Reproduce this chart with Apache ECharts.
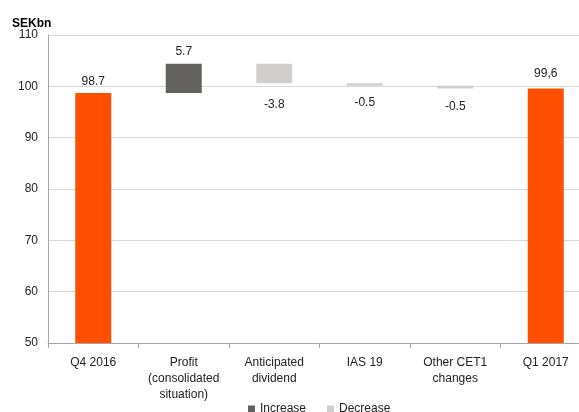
<!DOCTYPE html>
<html><head><meta charset="utf-8">
<script src="https://cdn.jsdelivr.net/npm/echarts@6/dist/echarts.min.js"></script>
<style>html,body{margin:0;padding:0;background:#fff}#c{width:579px;height:412px}</style>
</head><body><div id="c"></div>
<script>
const categories = ['Q4 2016', 'Profit\n(consolidated\nsituation)', 'Anticipated\ndividend', 'IAS 19', 'Other CET1\nchanges', 'Q1 2017'];
const totals = [98.7, null, null, null, null, 99.6];
const changes = [null, 5.7, -3.8, -0.5, -0.5, null];
const labelTexts = ['98.7', '5.7', '-3.8', '-0.5', '-0.5', '99,6'];
const yTicks = [50, 60, 70, 80, 90, 100, 110];

// label offsets (styling, not data)
const labelDist = [5, 6, 15, 11, 12, 9];

// waterfall helper derived from the values
let running = 0;
const base = [], inc = [], dec = [], tot = [];
categories.forEach((c, i) => {
  const lab = { distance: labelDist[i] };
  if (totals[i] != null) {
    running = totals[i];
    base.push(0); inc.push('-'); dec.push('-');
    tot.push({ value: totals[i], label: lab });
  } else {
    const d = changes[i];
    const lo = d >= 0 ? running : running + d;
    base.push(lo);
    if (d >= 0) { inc.push({ value: d, label: lab }); dec.push('-'); }
    else { inc.push('-'); dec.push({ value: -d, label: lab }); }
    tot.push('-');
    running += d;
  }
});

const font = 'Liberation Sans, Arial, sans-serif';
const chart = echarts.init(document.getElementById('c'));
chart.setOption({
  animation: false,
  title: { text: 'SEKbn', left: 7, top: 13, textStyle: { fontFamily: font, fontSize: 12, fontWeight: 'bold', color: '#000' } },
  grid: { left: 48, width: 543, top: 35, bottom: 69, outerBoundsMode: 'none', containLabel: false },
  legend: {
    top: 398, left: 243, itemWidth: 7, itemHeight: 7, itemGap: 21,
    data: [{ name: 'Increase', icon: 'rect' }, { name: 'Decrease', icon: 'rect' }],
    textStyle: { fontFamily: font, fontSize: 12, color: '#222' }
  },
  xAxis: {
    type: 'category', data: categories,
    axisLine: { lineStyle: { color: '#a6a6a6' } },
    axisTick: { show: true, length: 5, lineStyle: { color: '#a6a6a6' } },
    axisLabel: { fontFamily: font, fontSize: 12, color: '#222', margin: 12, lineHeight: 16, interval: 0 }
  },
  yAxis: {
    type: 'value', min: 50, max: 110, interval: 10,
    axisLine: { show: true, lineStyle: { color: '#a6a6a6' } },
    axisTick: { show: false },
    splitLine: { lineStyle: { color: '#d9d9d9' } },
    axisLabel: { fontFamily: font, fontSize: 12, color: '#222', margin: 10,
      formatter: v => yTicks.includes(v) ? String(v) : '' }
  },
  series: [
    { name: 'base', type: 'bar', stack: 'w', data: base, barWidth: 36, itemStyle: { color: 'transparent' }, silent: true },
    { name: 'Increase', type: 'bar', stack: 'w', data: inc, itemStyle: { color: '#636261' },
      label: { show: true, position: 'top', fontFamily: font, fontSize: 12, color: '#222', formatter: p => labelTexts[p.dataIndex] } },
    { name: 'Decrease', type: 'bar', stack: 'w', data: dec, itemStyle: { color: '#d0cfcd' },
      label: { show: true, position: 'bottom', fontFamily: font, fontSize: 12, color: '#222', formatter: p => labelTexts[p.dataIndex] } },
    { name: 'Total', type: 'bar', stack: 'w', data: tot, itemStyle: { color: '#ff4f00' },
      label: { show: true, position: 'top', fontFamily: font, fontSize: 12, color: '#222', formatter: p => labelTexts[p.dataIndex] } }
  ]
});
</script></body></html>
